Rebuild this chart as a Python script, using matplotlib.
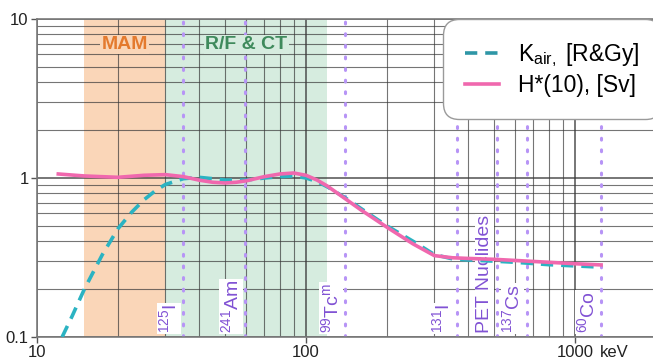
import matplotlib
matplotlib.use('Agg')
import matplotlib.pyplot as plt
from matplotlib.ticker import LogLocator, NullFormatter, FixedLocator, FixedFormatter

plt.rcParams['font.family'] = ['Liberation Sans', 'DejaVu Sans']
plt.rcParams['mathtext.fontset'] = 'custom'
plt.rcParams['mathtext.rm'] = 'Liberation Sans'
plt.rcParams['mathtext.it'] = 'Liberation Sans'

# Air kerma conversion (dashed) and ambient dose equivalent H*(10) (solid)
kair_kev = [12.4, 13.5, 15, 17.5, 20, 22.5, 25, 27.5, 30, 35, 40, 45, 50, 60, 70, 80, 90,
            100, 110, 120, 140, 170, 200, 250, 300, 350, 400, 500, 600, 800, 1000, 1250]
kair_val = [0.1, 0.135, 0.2, 0.33, 0.48, 0.61, 0.73, 0.83, 0.91, 0.99, 1.01, 0.99, 0.97, 0.97, 1.0, 1.02, 1.03,
            1.0, 0.95, 0.88, 0.75, 0.6, 0.5, 0.4, 0.33, 0.31, 0.305, 0.30, 0.295, 0.285, 0.28, 0.275]
h10_kev = [12, 15, 20, 25, 30, 35, 40, 45, 50, 55, 60, 70, 80, 90, 100, 110, 120,
           140, 160, 200, 250, 300, 350, 400, 500, 600, 800, 1000, 1250]
h10_val = [1.06, 1.03, 1.01, 1.04, 1.05, 1.02, 0.97, 0.94, 0.93, 0.94, 0.96, 1.02, 1.06, 1.075, 1.04, 0.97, 0.89,
           0.74, 0.63, 0.49, 0.385, 0.325, 0.315, 0.312, 0.308, 0.303, 0.295, 0.289, 0.284]

# application ranges
regions = [('MAM', 15, 30, '#fad6b8', '#e47a2e'),
           ('R/F & CT', 30, 120, '#d6ecdf', '#3f8a5c')]

# nuclide gamma lines
nuclides = ['$^{125}$I', '$^{241}$Am', '$^{99}$Tc$^{m}$', '$^{131}$I', 'PET Nuclides', '$^{137}$Cs', '$^{60}$Co']
nuclide_kev = [35, 59.5, 140, 364, 511, 662, 1250]

fig = plt.figure(figsize=(6.53, 3.6), dpi=100)
ax = fig.add_axes([37 / 653, 23 / 360, 619 / 653, 318 / 360])
ax.set_xscale('log')
ax.set_yscale('log')
ax.set_xlim(10, 2000)
ax.set_ylim(0.1, 10)

for name, lo, hi, fill, tc in regions:
    ax.axvspan(lo, hi, color=fill, lw=0, zorder=0)
    ax.text((lo * hi) ** 0.5, 6.9, name, color=tc, fontsize=14, fontweight='bold',
            ha='center', va='center', zorder=3,
            bbox=dict(facecolor=fill, edgecolor='none', pad=1))

# grid
ax.xaxis.set_minor_locator(LogLocator(base=10, subs=range(2, 10)))
ax.yaxis.set_minor_locator(LogLocator(base=10, subs=range(2, 10)))
ax.grid(which='major', color='#3a3a3a', lw=1.3, alpha=0.75, zorder=1)
ax.grid(which='minor', color='#3a3a3a', lw=0.8, alpha=0.7, zorder=1)
ax.set_axisbelow(True)

for lab, e in zip(nuclides, nuclide_kev):
    ax.axvline(e, color='#b794f6', lw=2.2, ls=(0, (0.6, 3.2)), dash_capstyle='round', zorder=2)
    ax.annotate(lab, xy=(e, 0.1), xytext=(-2.5, 3), textcoords='offset points',
                rotation=90, ha='right', va='bottom', fontsize=14, color='#8152d4', zorder=3,
                bbox=dict(facecolor='white', edgecolor='none', pad=0.5))

ax.plot(kair_kev, kair_val, color='#2bb3c2', lw=2.6, ls=(0, (3.4, 2.2)), zorder=4,
        label='K$_{\\rm air,}$ [R&Gy]')
ax.plot(h10_kev, h10_val, color='#f068ae', lw=2.6, zorder=4, label='H*(10), [Sv]')

leg = ax.legend(loc='upper right', bbox_to_anchor=(1.008, 1.0), borderaxespad=0, fontsize=16.5,
                frameon=True, fancybox=True, framealpha=1, edgecolor='#9a9a9a',
                handlelength=1.5, handletextpad=0.8, labelspacing=0.25, borderpad=0.95)
leg.get_frame().set_boxstyle('round', pad=0, rounding_size=0.7)
leg.get_lines()[0].set_color('#2e96a6')

# ticks
ax.xaxis.set_major_locator(FixedLocator([10, 100, 1000]))
ax.xaxis.set_major_formatter(FixedFormatter(['10', '100', '1000']))
ax.xaxis.set_minor_formatter(NullFormatter())
ax.yaxis.set_major_locator(FixedLocator([0.1, 1, 10]))
ax.yaxis.set_major_formatter(FixedFormatter(['0.1', '1', '10']))
ax.yaxis.set_minor_formatter(NullFormatter())
ax.tick_params(which='major', length=4, width=1, color='#555555', labelsize=12, pad=2, labelcolor='#222222')
ax.tick_params(which='minor', length=0)
ax.annotate('keV', xy=(1235, 0.1), xytext=(0, -6), textcoords='offset points',
            ha='left', va='top', fontsize=12, color='#222222', annotation_clip=False)

for s in ['left', 'bottom', 'top', 'right']:
    ax.spines[s].set_color('#7a7a7a')
    ax.spines[s].set_linewidth(1.2)

fig.savefig('out.png', dpi=100)
